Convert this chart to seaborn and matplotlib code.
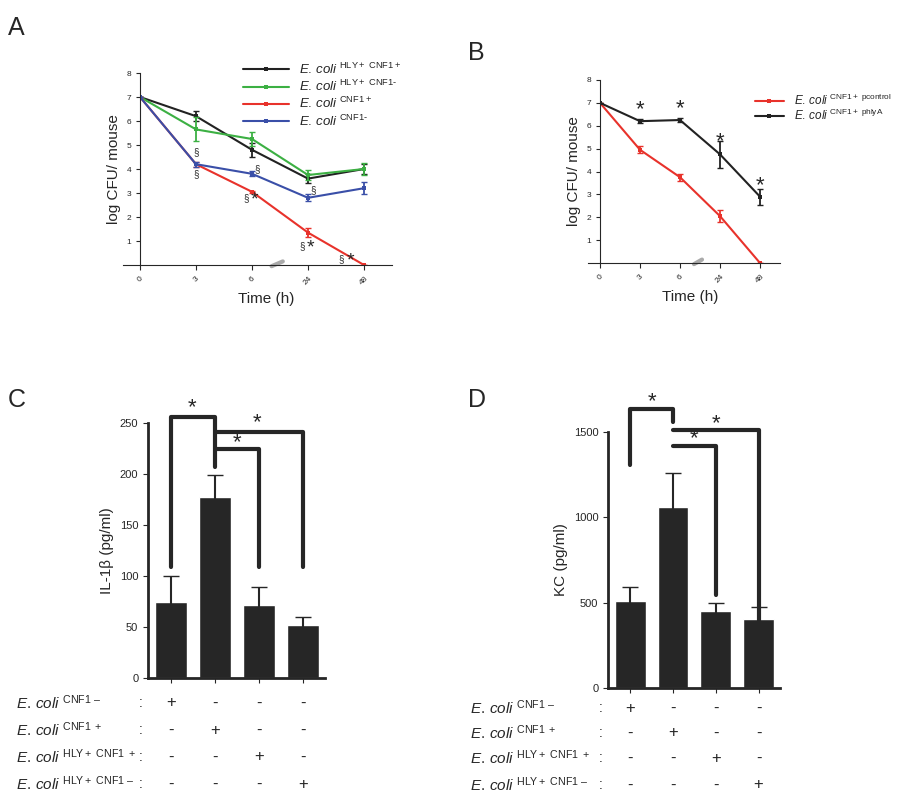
import numpy as np
import pandas as pd
import seaborn as sns
import matplotlib.pyplot as plt

times = ["0", "3", "6", "24", "48"]
a_names = ["HLY+ CNF1+", "HLY+ CNF1-", "CNF1+", "CNF1-"]
a_colors = ["#222222", "#3cb043", "#e8322b", "#3a4fa8"]
a_vals = [[7, 6.2, 4.8, 3.6, 4.0], [7, 5.65, 5.25, 3.75, 4.0],
          [7, 4.2, 3.05, 1.35, 0], [7, 4.2, 3.8, 2.8, 3.2]]
a_err = [[0, .2, .3, .2, .2], [0, .5, .3, .2, .25],
         [0, .1, .05, .2, 0], [0, .1, .1, .15, .25]]
b_names = ["CNF1+ pcontrol", "CNF1+ phlyA"]
b_colors = ["#e8322b", "#222222"]
b_vals = [[7, 4.95, 3.75, 2.05, 0], [7, 6.2, 6.25, 4.75, 2.9]]
b_err = [[0, .15, .15, .25, 0], [0, .1, .1, .6, .35]]
il1b = [75, 177, 72, 52]
il1b_err = [25, 22, 17, 8]
kc = [510, 1060, 450, 405]
kc_err = [80, 200, 50, 70]
row_labels = ["CNF1 \u2013", "CNF1 +", "HLY+ CNF1 +", "HLY+ CNF1 \u2013"]

sns.set_style("ticks")
plt.rcParams['font.family'] = ['Liberation Sans', 'DejaVu Sans']
plt.rcParams['mathtext.fontset'] = 'custom'
plt.rcParams['mathtext.rm'] = 'Liberation Sans'
plt.rcParams['mathtext.it'] = 'Liberation Sans:italic'
fig = plt.figure(figsize=(9.04, 8), dpi=100)
W, H = 904, 800


def ax_at(x0, y0, x1, y1):
    return fig.add_axes([x0 / W, 1 - y1 / H, (x1 - x0) / W, (y1 - y0) / H])


def ecoli(sup):
    return r"$\mathit{E.\,coli}$ $^{\mathrm{" + sup.replace(" ", r"\ ").replace("-", "\u2010") + "}}$"


def line_panel(ax, names, colors, vals, errs, marks):
    for n, c, v, e in zip(names, colors, vals, errs):
        df = pd.DataFrame({"t": range(5), "v": v})
        sns.lineplot(data=df, x="t", y="v", ax=ax, color=c, marker="s", markersize=3,
                     markeredgewidth=0, lw=1.5, label=ecoli(n))
        ax.errorbar(range(5), v, yerr=e, fmt="none", ecolor=c, capsize=2, lw=1.3)
    ax.set_ylim(0, 8)
    ax.set_xlim(0, 4.5)
    ax.set_xticks(range(5))
    ax.set_xticklabels(times, rotation=45, fontsize=6)
    ax.set_yticks(range(1, 9))
    ax.tick_params(axis="y", labelsize=6, length=3)
    ax.set_xlabel("Time (h)", fontsize=11)
    ax.set_ylabel("log CFU/ mouse", fontsize=11)
    for s in ["top", "right"]:
        ax.spines[s].set_visible(False)
    ax.spines["bottom"].set_bounds(-0.3, 4.5)
    ax.plot([2.35, 2.55], [-0.05, 0.15], color="#aaaaaa", lw=3, clip_on=False)
    for x, y, t, fs in marks:
        ax.text(x, y, t, fontsize=fs, ha="center", va="center")


axA = ax_at(140, 73, 392, 265)
line_panel(axA, a_names, a_colors, a_vals, a_err,
           [(1, 4.7, "§", 7), (1, 3.8, "§", 7), (2.1, 4.0, "§", 7), (1.9, 2.8, "§", 7),
            (2.05, 2.7, "*", 14), (3.1, 3.1, "§", 7), (2.9, 0.8, "§", 7), (3.05, 0.7, "*", 14),
            (3.6, 0.25, "§", 7), (3.75, 0.15, "*", 14)])
axA.legend(loc="upper left", bbox_to_anchor=(0.36, 1.12), frameon=False, fontsize=9.5,
           handlelength=3.5, labelspacing=0.15)

axB = ax_at(600, 80, 780, 263)
line_panel(axB, b_names, b_colors, b_vals, b_err,
           [(1, 6.7, "*", 16), (2, 6.75, "*", 16), (3, 5.3, "*", 16), (4, 3.4, "*", 16)])
axB.legend(loc="upper left", bbox_to_anchor=(0.8, 0.99), frameon=False, fontsize=8.5,
           handlelength=2.5, labelspacing=0.05)


def bar_panel(ax, vals, errs, ylabel, ymax, yticks, brackets, stars, rows_y, lab_x):
    df = pd.DataFrame({"g": range(4), "v": vals})
    sns.barplot(data=df, x="g", y="v", ax=ax, color="#262626", width=0.72)
    ax.errorbar(range(4), vals, yerr=errs, fmt="none", ecolor="#262626", capsize=6, lw=1.5)
    ax.set_ylim(0, ymax)
    ax.set_xlim(-0.52, 3.5)
    ax.set_yticks(yticks)
    ax.tick_params(axis="y", labelsize=8)
    ax.set_xticks(range(4))
    ax.set_xticklabels([])
    ax.set_xlabel("")
    ax.set_ylabel(ylabel, fontsize=11)
    for s in ["top", "right"]:
        ax.spines[s].set_visible(False)
    ax.spines["left"].set_linewidth(2)
    ax.spines["bottom"].set_linewidth(2)
    for x0, x1, top, y0, y1 in brackets:
        ax.plot([x0, x0, x1, x1], [y0, top, top, y1], color="#262626", lw=3, clip_on=False)
    for x, y in stars:
        ax.text(x, y, "*", fontsize=16, ha="center", va="center")
    for r, lab in enumerate(row_labels):
        y = 1 - rows_y[r] / H
        fig.text(lab_x / W, y, ecoli(lab), ha="left", va="center", fontsize=11)
        for g in range(4):
            xd = ax.transData.transform((g, 0))[0]
            fig.text(xd / W, y, "+" if g == r else "-", ha="center", va="center", fontsize=12)
        xs = ax.transData.transform((-0.55, 0))[0] - 6
        fig.text(xs / W, y, ":", ha="center", va="center", fontsize=10)


axC = ax_at(148, 423, 325, 678)
bar_panel(axC, il1b, il1b_err, "IL-1\u03b2 (pg/ml)", 250, [0, 50, 100, 150, 200, 250],
          [(0, 1, 256, 109, 207), (1, 2, 225, 225, 109), (1, 3, 241, 241, 109)],
          [(0.48, 265), (1.5, 231), (1.95, 250)], [703, 730, 757, 784], 16)

axD = ax_at(608, 432, 780, 688)
bar_panel(axD, kc, kc_err, "KC (pg/ml)", 1500, [0, 500, 1000, 1500],
          [(0, 1, 1635, 1306, 1560), (1, 2, 1418, 1418, 545), (1, 3, 1511, 1511, 340)],
          [(0.5, 1680), (1.5, 1460), (2.0, 1550)], [708, 733, 758, 785], 470)

for x, y, t in [(8, 28, "A"), (468, 53, "B"), (8, 400, "C"), (468, 400, "D")]:
    fig.text(x / W, 1 - y / H, t, fontsize=18, va="center")

fig.savefig("out.png", dpi=100)
